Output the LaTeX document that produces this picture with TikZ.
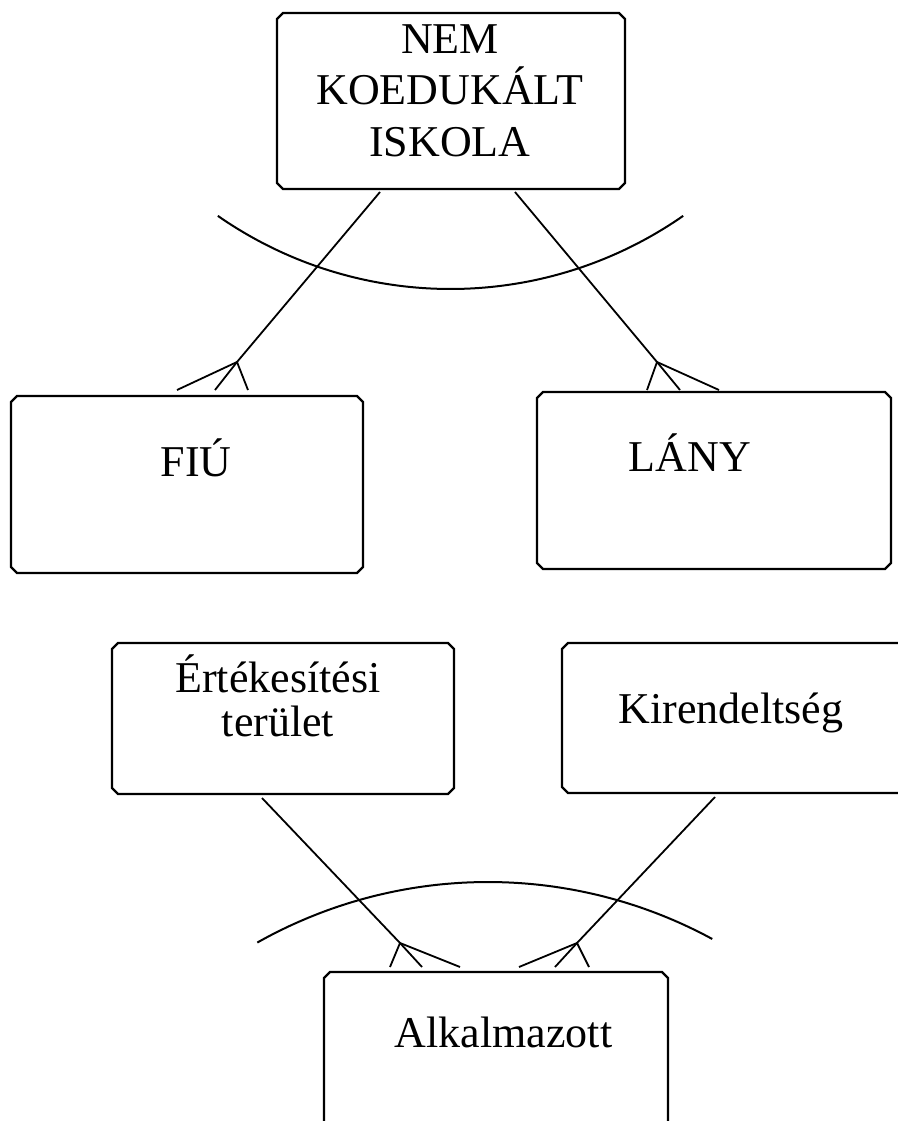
\documentclass[tikz,border=0pt]{standalone}
\usepackage{fontspec}
\setmainfont{Liberation Serif}
\usetikzlibrary{calc}
\begin{document}
\begin{tikzpicture}[x=1pt,y=-1pt,
  entity/.style 2 args={rectangle, inner sep=0pt, outer sep=0pt,
    minimum width=#1pt, minimum height=#2pt},
  boxline/.style={line width=2.4pt, line join=miter},
  boxtext/.style={font=\fontsize{44}{52}\selectfont, align=center, anchor=base, inner sep=0pt},
  conn/.style={line width=1.8pt},
  arcline/.style={line width=2pt}]
% page
\fill[white] (0,0) rectangle (897,1121);
\useasboundingbox (0,0) rectangle (897,1121);

% outline of an entity box with cut corners
\newcommand\chamferbox[1]{%
  \draw[boxline] ($(#1.north west)+(6,0)$) -- ($(#1.north east)+(-6,0)$)
    -- ($(#1.north east)+(0,6)$) -- ($(#1.south east)+(0,-6)$)
    -- ($(#1.south east)+(-6,0)$) -- ($(#1.south west)+(6,0)$)
    -- ($(#1.south west)+(0,-6)$) -- ($(#1.north west)+(0,6)$) -- cycle;}

% entity boxes
\node[entity={348}{176}] (school) at (451,101) {};
\node[entity={352}{177}] (boy) at (187,484.5) {};
\node[entity={354}{177}] (girl) at (714,480.5) {};
\node[entity={342}{151}] (area) at (283,718.5) {};
\node[entity={343}{150}] (branch) at (733.5,718) {};
\node[entity={344}{188}] (employee) at (496,1066) {};
\chamferbox{school}
\chamferbox{boy}
\chamferbox{girl}
\chamferbox{area}
\chamferbox{branch}
\chamferbox{employee}

% box texts (base anchor sits on the last line)
\node[boxtext] (schooltext) at (450,157) {NEM\\KOEDUKÁLT\\ISKOLA};
\node[boxtext] (boytext) at (196,476) {FIÚ};
\node[boxtext] (girltext) at (690,471) {LÁNY};
\node[boxtext, font=\fontsize{44}{44}\selectfont] (areatext) at (278,736) {Értékesítési\\terület};
\node[boxtext] (branchtext) at (731,723) {Kirendeltség};
\node[boxtext] (employeetext) at (503.5,1047) {Alkalmazott};

% crow's foot ends
\coordinate (a1) at (237,362);
\coordinate (a1l) at (177,390);
\coordinate (a1m) at (215,390);
\coordinate (a1r) at (248,390);
\coordinate (a2) at (657,362);
\coordinate (a2l) at (647,390);
\coordinate (a2m) at (680,390);
\coordinate (a2r) at (719,390);
\coordinate (a3) at (400,943);
\coordinate (a3l) at (390,967);
\coordinate (a3m) at (422,967);
\coordinate (a3r) at (460,967);
\coordinate (a4) at (577,943);
\coordinate (a4l) at (519,967);
\coordinate (a4m) at (555,967);
\coordinate (a4r) at (589,967);

% relationships
\draw[conn] ([xshift=-71pt,yshift=-3pt]school.south) -- (a1);
\draw[conn] (a1l) -- (a1) -- (a1r);
\draw[conn] (a1m) -- (a1);
\draw[conn] ([xshift=64pt,yshift=-3pt]school.south) -- (a2);
\draw[conn] (a2l) -- (a2) -- (a2r);
\draw[conn] (a2m) -- (a2);
\draw[conn] ([xshift=-21pt,yshift=-4pt]area.south) -- (a3);
\draw[conn] (a3l) -- (a3) -- (a3r);
\draw[conn] (a3m) -- (a3);
\draw[conn] ([xshift=-18.5pt,yshift=-4pt]branch.south) -- (a4);
\draw[conn] (a4l) -- (a4) -- (a4r);
\draw[conn] (a4m) -- (a4);

% exclusive-arc marks
\draw[arcline] plot[domain=-34.9:34.9, samples=80, smooth]
  ({450.5+406.7*sin(\x)}, {-117.7+406.7*cos(\x)});
\draw[arcline] plot[domain=-29.4:28.5, samples=80, smooth]
  ({488+470*sin(\x)}, {1352-470*cos(\x)});
\end{tikzpicture}
\end{document}
